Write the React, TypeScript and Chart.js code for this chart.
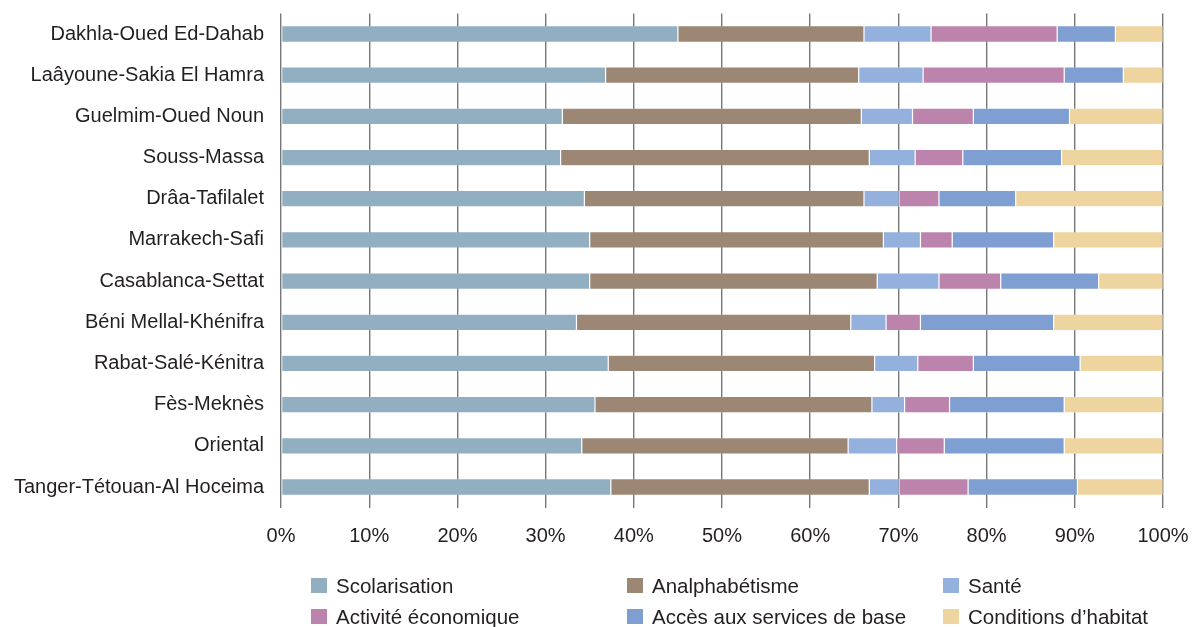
import React, { useEffect, useRef } from "react";
import { Chart, registerables } from "chart.js";

Chart.register(...registerables);

const regions = [
  "Dakhla-Oued Ed-Dahab",
  "Laâyoune-Sakia El Hamra",
  "Guelmim-Oued Noun",
  "Souss-Massa",
  "Drâa-Tafilalet",
  "Marrakech-Safi",
  "Casablanca-Settat",
  "Béni Mellal-Khénifra",
  "Rabat-Salé-Kénitra",
  "Fès-Meknès",
  "Oriental",
  "Tanger-Tétouan-Al Hoceima",
];

const scolarisation = [45.0, 36.8, 31.9, 31.7, 34.4, 35.0, 35.0, 33.5, 37.1, 35.6, 34.1, 37.4];
const analphabetisme = [21.1, 28.7, 33.9, 35.0, 31.7, 33.3, 32.6, 31.1, 30.2, 31.4, 30.2, 29.3];
const sante = [7.6, 7.3, 5.8, 5.2, 4.0, 4.2, 7.0, 4.0, 4.9, 3.7, 5.5, 3.4];
const activite = [14.3, 16.0, 6.9, 5.4, 4.5, 3.6, 7.0, 3.9, 6.3, 5.1, 5.4, 7.8];
const acces = [6.6, 6.7, 10.9, 11.2, 8.7, 11.5, 11.1, 15.1, 12.1, 13.0, 13.6, 12.4];
const conditions = [5.4, 4.5, 10.6, 11.5, 16.7, 12.4, 7.3, 12.4, 9.4, 11.2, 11.2, 9.7];

const seriesNames = [
  "Scolarisation",
  "Analphabétisme",
  "Santé",
  "Activité économique",
  "Accès aux services de base",
  "Conditions d’habitat",
];
const seriesValues = [scolarisation, analphabetisme, sante, activite, acces, conditions];
const seriesColors = ["#92aec1", "#9b8774", "#94b0dc", "#bc84ad", "#7f9fd3", "#eed49e"];

const xTicks = [0, 10, 20, 30, 40, 50, 60, 70, 80, 90, 100];

const FONT = "'Liberation Sans', Arial, Helvetica, sans-serif";
const TEXT = "#231f20";

export default function App() {
  const ref = useRef<HTMLCanvasElement | null>(null);

  useEffect(() => {
    if (!ref.current) return;
    const chart = new Chart(ref.current, {
      type: "bar",
      data: {
        labels: regions,
        datasets: seriesNames.map((name, i) => ({
          label: name,
          data: seriesValues[i],
          backgroundColor: seriesColors[i],
          borderColor: "rgba(255,255,255,0.3)",
          borderWidth: 0.6,
          borderSkipped: false,
          categoryPercentage: 1,
          barPercentage: 0.4,
        })),
      },
      options: {
        indexAxis: "y",
        animation: false,
        responsive: false,
        maintainAspectRatio: false,
        layout: { padding: { left: 0, right: 30, top: 13.4, bottom: 0 } },
        plugins: {
          legend: { display: false },
          tooltip: { enabled: false },
          title: { display: false },
        },
        scales: {
          x: {
            stacked: true,
            min: 0,
            max: 100,
            afterBuildTicks: (scale: any) => {
              scale.ticks = xTicks.map((v) => ({ value: v }));
            },
            afterFit: (scale: any) => {
              scale.height = 627 - 507.6;
              scale.paddingLeft = 0;
              scale.paddingRight = 0;
              scale.paddingTop = 0;
              scale.paddingBottom = 0;
            },
            grid: {
              display: true,
              drawTicks: false,
              color: "#777777",
              lineWidth: 1.4,
            },
            border: { display: false },
            ticks: {
              padding: 17,
              color: TEXT,
              font: { family: FONT, size: 20 },
              callback: (v: any) => `${v}%`,
              maxRotation: 0,
              autoSkip: false,
            },
          },
          y: {
            stacked: true,
            afterFit: (scale: any) => {
              scale.width = 281;
              scale.paddingLeft = 0;
              scale.paddingRight = 0;
              scale.paddingTop = 0;
              scale.paddingBottom = 0;
            },
            grid: { display: false, drawTicks: false },
            border: { display: false },
            ticks: {
              padding: 17,
              color: TEXT,
              font: { family: FONT, size: 20 },
              autoSkip: false,
            },
          },
        },
      },
    });
    return () => chart.destroy();
  }, []);

  return (
    <div
      style={{
        position: "fixed",
        left: 0,
        top: 0,
        width: 1193,
        height: 627,
        background: "#ffffff",
        overflow: "hidden",
      }}
    >
      <canvas ref={ref} width={1193} height={627} style={{ position: "absolute", left: 0, top: 0 }} />
      <div
        style={{
          position: "absolute",
          left: 311,
          top: 570,
          display: "grid",
          gridTemplateColumns: "316px 316px 250px",
          gridAutoRows: "31px",
          fontFamily: FONT,
          fontSize: 20.5,
          color: TEXT,
        }}
      >
        {seriesNames.map((name, i) => (
          <div key={name} style={{ display: "flex", alignItems: "center", whiteSpace: "nowrap" }}>
            <span
              style={{
                display: "inline-block",
                width: 16,
                height: 14.5,
                background: seriesColors[i],
                marginRight: 9,
                flex: "none",
              }}
            />
            <span>{name}</span>
          </div>
        ))}
      </div>
    </div>
  );
}
